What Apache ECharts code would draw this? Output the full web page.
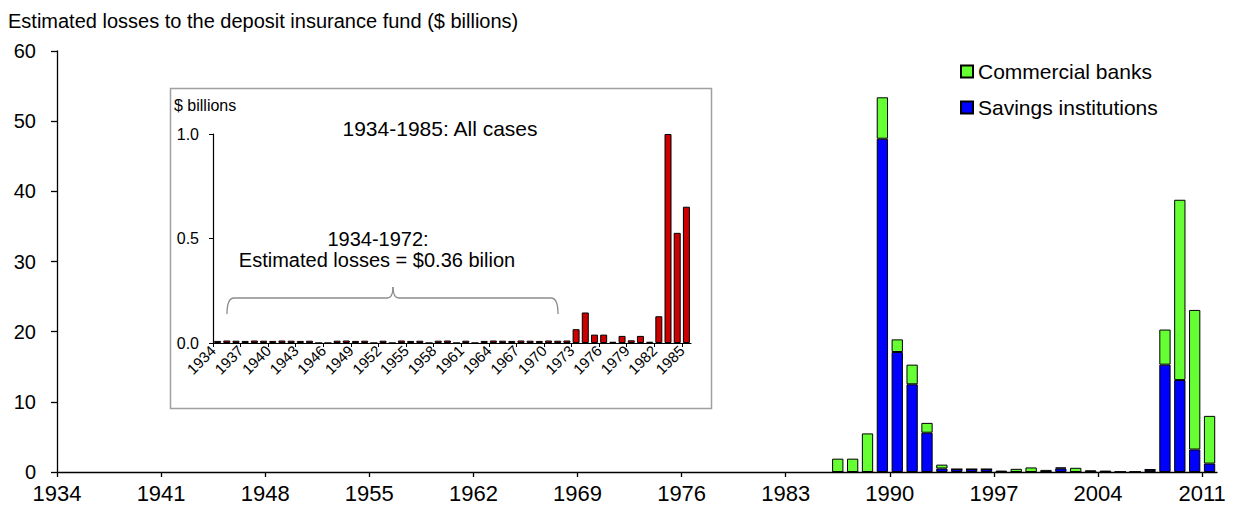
<!DOCTYPE html>
<html>
<head>
<meta charset="utf-8">
<script src="https://cdn.jsdelivr.net/npm/echarts@6/dist/echarts.min.js"></script>
<style>
html,body{margin:0;padding:0;background:#fff;}
#chart{width:1235px;height:506px;}
</style>
</head>
<body>
<div id="chart"></div>
<script>
// ---------- Main chart data (1934-2011, $ billions) ----------
const years = [];
for (let y = 1934; y <= 2011; y++) years.push(String(y));
// main chart shows only 1986-2011 (earlier years are in the inset)
const mainYears = ['1986','1987','1988','1989','1990','1991','1992','1993','1994','1995','1996','1997','1998','1999','2000','2001','2002','2003','2004','2005','2006','2007','2008','2009','2010','2011'];
const savingsInstitutions = [0, 0, 0, 47.5, 17.1, 12.5, 5.6, 0.5, 0.4, 0.4, 0.4, 0, 0, 0, 0, 0.5, 0, 0, 0, 0, 0, 0.3, 15.3, 13.1, 3.2, 1.2];
const commercialBanks    = [1.9, 1.9, 5.5, 5.9, 1.8, 2.8, 1.4, 0.55, 0, 0, 0, 0.2, 0.45, 0.65, 0.3, 0.15, 0.6, 0.25, 0.2, 0, 0, 0.1, 5.0, 25.7, 19.9, 6.8];
const mainYTicks = [0, 10, 20, 30, 40, 50, 60];

// ---------- Inset data (1934-1985, all cases, $ billions) ----------
const insetYears = [];
for (let y = 1934; y <= 1985; y++) insetYears.push(String(y));
const insetLosses = [
  0.010, 0.012, 0.011, 0.010, 0.012, 0.011, 0.010, 0.012, 0.011, 0.010, 0.011, // 1934-1944
  0, 0,                                                                          // 1945-1946
  0.011, 0.012, 0.010, 0.011,                                                    // 1947-1950
  0, 0.011, 0,                                                                   // 1951-1953
  0.012, 0.010, 0.011,                                                           // 1954-1956
  0, 0.011, 0.012,                                                               // 1957-1959
  0, 0.011, 0,                                                                   // 1960-1962
  0.010, 0.012, 0.011, 0.010, 0.012, 0.011, 0.010, 0.012, 0.011, 0.012,          // 1963-1972
  0.066, 0.146, 0.040, 0.040, 0.006, 0.034, 0.013, 0.034, 0.006, 0.128,          // 1973-1982
  1.0, 0.527, 0.652                                                              // 1983-1985
];
const insetYTicks = [0, 0.5, 1.0];

// build full-length arrays for the main axis
const idx = y => years.indexOf(y);
const savingsFull = years.map(() => null);
const commercialFull = years.map(() => null);
mainYears.forEach((y, i) => { savingsFull[idx(y)] = savingsInstitutions[i]; commercialFull[idx(y)] = commercialBanks[i]; });

// boundary label axes (labels sit on category boundaries)
const mainBoundaryLabels = years.concat([String(2012)]);
const insetBoundaryLabels = insetYears.concat([String(1986)]);

const FONT = "'Liberation Sans', Arial, sans-serif";
const chart = echarts.init(document.getElementById('chart'), null, {renderer: 'svg'});

const braceStyle = {stroke: '#8C8C8C', lineWidth: 1.3, fill: 'none'};

const option = {
  backgroundColor: '#ffffff',
  animation: false,
  textStyle: {fontFamily: FONT, color: '#000'},
  grid: [
    {left: 57, right: 18, top: 51, bottom: 34, containLabel: false},
    {left: 213, right: 544, top: 134, bottom: 163, containLabel: false}
  ],
  legend: {
    orient: 'vertical',
    left: 955, top: 56,
    icon: 'rect',
    itemWidth: 12, itemHeight: 12, itemGap: 15,
    data: ['Commercial banks', 'Savings institutions'],
    textStyle: {fontFamily: FONT, fontSize: 21, color: '#000'}
  },
  xAxis: [
    { // main bars axis
      type: 'category', gridIndex: 0, data: years, boundaryGap: true,
      axisLine: {show: true, lineStyle: {color: '#000', width: 1.3}},
      axisTick: {show: false}, axisLabel: {show: false}, splitLine: {show: false}
    },
    { // main label axis on boundaries
      type: 'category', gridIndex: 0, data: mainBoundaryLabels, boundaryGap: false, position: 'bottom',
      axisLine: {show: false},
      axisTick: {show: true, interval: 6, length: 5, lineStyle: {color: '#000', width: 1.3}},
      axisLabel: {show: true, interval: 6, fontSize: 22, color: '#000', fontFamily: FONT, margin: 10},
      splitLine: {show: false}
    },
    { // inset bars axis
      type: 'category', gridIndex: 1, data: insetYears, boundaryGap: true,
      axisLine: {show: true, lineStyle: {color: '#000', width: 1.2}},
      axisTick: {show: false}, axisLabel: {show: false}, splitLine: {show: false}
    },
    { // inset label axis on boundaries
      type: 'category', gridIndex: 1, data: insetBoundaryLabels, boundaryGap: false, position: 'bottom',
      axisLine: {show: false},
      axisTick: {show: true, interval: 2, length: 4, lineStyle: {color: '#000', width: 1}},
      axisLabel: {show: true, interval: 2, rotate: 45, fontSize: 15, color: '#000', fontFamily: FONT, margin: 5},
      splitLine: {show: false}
    }
  ],
  yAxis: [
    {
      type: 'value', gridIndex: 0, min: mainYTicks[0], max: mainYTicks[mainYTicks.length - 1], interval: 10,
      axisLine: {show: true, lineStyle: {color: '#000', width: 1.3}},
      axisTick: {show: true, length: 6, lineStyle: {color: '#000', width: 1.3}},
      axisLabel: {fontSize: 20, color: '#000', fontFamily: FONT, margin: 21},
      splitLine: {show: false}
    },
    {
      type: 'value', gridIndex: 1, min: insetYTicks[0], max: insetYTicks[insetYTicks.length - 1], interval: 0.5,
      axisLine: {show: true, lineStyle: {color: '#000', width: 1.2}},
      axisTick: {show: true, length: 4, lineStyle: {color: '#000'}},
      axisLabel: {fontSize: 16, color: '#000', fontFamily: FONT, margin: 14, formatter: v => v.toFixed(1)},
      splitLine: {show: false}
    }
  ],
  series: [
    {
      name: 'Savings institutions', type: 'bar', stack: 'main', xAxisIndex: 0, yAxisIndex: 0,
      data: savingsFull, barCategoryGap: '24%',
      itemStyle: {color: '#0000FF', borderColor: '#000', borderWidth: 1}, z: 3
    },
    {
      name: 'Commercial banks', type: 'bar', stack: 'main', xAxisIndex: 0, yAxisIndex: 0,
      data: commercialFull, barCategoryGap: '24%',
      itemStyle: {color: '#66FF33', borderColor: '#000', borderWidth: 1}, z: 3
    },
    {
      name: 'All cases', type: 'bar', xAxisIndex: 2, yAxisIndex: 1,
      data: insetLosses, barCategoryGap: '24%',
      itemStyle: {color: '#CC0000', borderColor: '#000', borderWidth: 1}, z: 5
    }
  ],
  graphic: [
    {type: 'text', x: 8, y: 11, z: 10,
     style: {text: 'Estimated losses to the deposit insurance fund ($ billions)', font: "20px 'Liberation Sans', Arial, sans-serif", fill: '#000'}},
    {type: 'rect', shape: {x: 170.5, y: 88.5, width: 541, height: 320}, z: 0,
     style: {fill: '#ffffff', stroke: '#A0A0A0', lineWidth: 1.5}},
    {type: 'text', x: 174, y: 97, z: 10,
     style: {text: '$ billions', font: "16px 'Liberation Sans', Arial, sans-serif", fill: '#000'}},
    {type: 'text', x: 440, y: 128, z: 10,
     style: {text: '1934-1985: All cases', font: "21px 'Liberation Sans', Arial, sans-serif", fill: '#000', textAlign: 'center', textVerticalAlign: 'middle'}},
    {type: 'text', x: 378, y: 239, z: 10,
     style: {text: '1934-1972:', font: "20px 'Liberation Sans', Arial, sans-serif", fill: '#000', textAlign: 'center', textVerticalAlign: 'middle'}},
    {type: 'text', x: 377, y: 260, z: 10,
     style: {text: 'Estimated losses = $0.36 bilion', font: "20px 'Liberation Sans', Arial, sans-serif", fill: '#000', textAlign: 'center', textVerticalAlign: 'middle'}},
    // curly brace
    {type: 'bezierCurve', z: 10, shape: {x1: 227, y1: 314, x2: 234, y2: 298, cpx1: 227, cpy1: 298}, style: braceStyle},
    {type: 'line', z: 10, shape: {x1: 234, y1: 298, x2: 387, y2: 298}, style: braceStyle},
    {type: 'bezierCurve', z: 10, shape: {x1: 387, y1: 298, x2: 393, y2: 287, cpx1: 393, cpy1: 298}, style: braceStyle},
    {type: 'bezierCurve', z: 10, shape: {x1: 393, y1: 287, x2: 399, y2: 298, cpx1: 393, cpy1: 298}, style: braceStyle},
    {type: 'line', z: 10, shape: {x1: 399, y1: 298, x2: 551, y2: 298}, style: braceStyle},
    {type: 'bezierCurve', z: 10, shape: {x1: 551, y1: 298, x2: 558, y2: 314, cpx1: 558, cpy1: 298}, style: braceStyle}
  ]
};
chart.setOption(option);
</script>
</body>
</html>
